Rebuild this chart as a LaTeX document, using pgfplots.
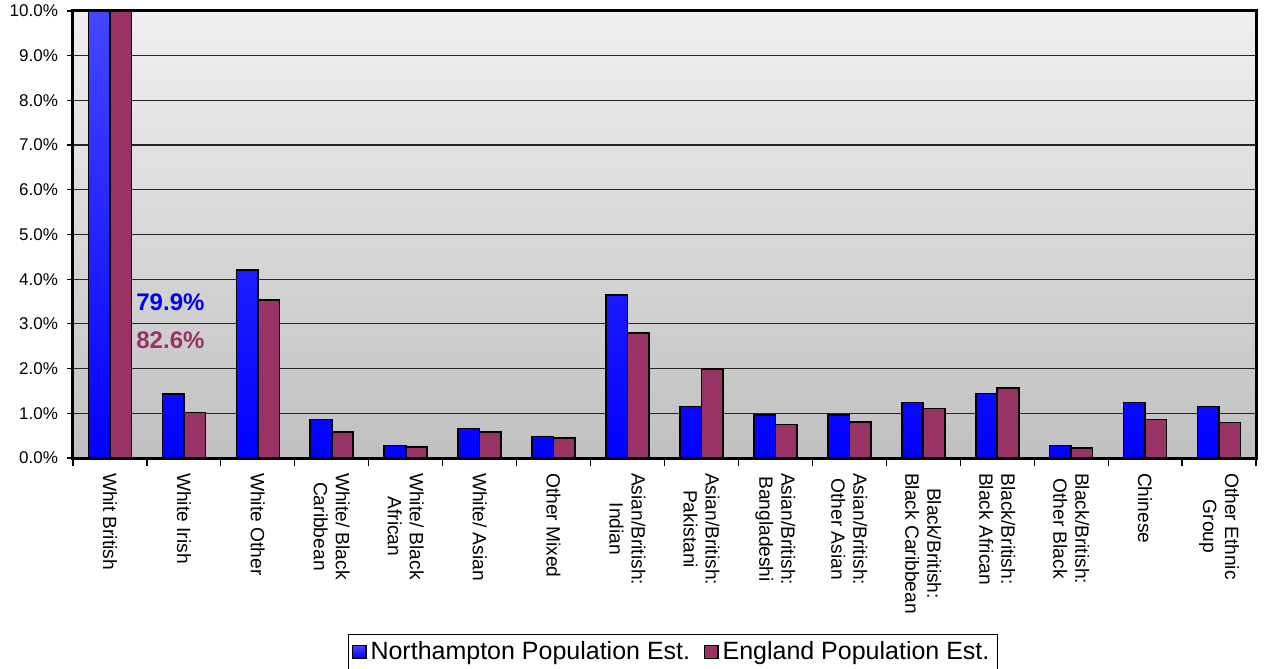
\documentclass[border=0pt]{standalone}
\usepackage{pgfplots}
\pgfplotsset{compat=1.18}
\usepackage{fontspec}
\setmainfont{Liberation Sans}
\usetikzlibrary{calc}
\definecolor{bgtop}{RGB}{240,240,240}
\definecolor{bgbot}{RGB}{192,192,192}
\definecolor{btop}{RGB}{70,70,255}
\definecolor{bbot}{RGB}{0,0,255}
\definecolor{maroon}{RGB}{153,51,102}
\begin{document}
\begin{tikzpicture}
\begin{axis}[
  scale only axis,
  width=591.5pt, height=223.5pt,
  ybar=0pt, bar width=10.75pt,
  xmin=-0.5, xmax=15.5,
  ymin=0, ymax=10,
  restrict y to domain*=0:10,
  axis background/.style={top color=bgtop, bottom color=bgbot},
  axis line style={line width=1.5pt, black},
  ymajorgrids, grid style={black!85, line width=0.6pt},
  ytick={0,1,...,10},
  yticklabel={\pgfmathprintnumber[fixed,fixed zerofill,precision=1]{\tick}\%},
  /pgf/number format/assume math mode=true,
  yticklabel style={font=\fontsize{8.5}{10}\selectfont, xshift=-1pt},
  tick align=outside,
  xtick pos=lower, ytick pos=lower,
  major tick length=3pt,
  minor tick length=4pt,
  tick style={black, line width=0.6pt},
  xtick={0,...,15},
  major x tick style={draw=none},
  minor xtick={-0.5,0.5,...,15.5},
  xticklabels={Whit British, White Irish, White Other, {White/ Black\\Caribbean}, {White/ Black\\African}, White/ Asian, Other Mixed, {Asian/British:\\Indian}, {Asian/British:\\Pakistani}, {Asian/British:\\Bangladeshi}, {Asian/British:\\Other Asian}, {Black/British:\\Black Caribbean}, {Black/British:\\Black African}, {Black/British:\\Other Black}, Chinese, {Other Ethnic\\Group}},
  xticklabel style={rotate=-90, anchor=west, align=center, font=\fontsize{9.6}{11}\selectfont, xshift=1pt},
  legend style={at={(0.507,-0.393)}, anchor=north, legend columns=2, draw=black, line width=0.5pt, fill=white, font=\fontsize{12.5}{14.5}\selectfont, inner xsep=2pt, inner ysep=1.5pt, /tikz/every even column/.append style={column sep=5pt}},
  legend image code/.code={\draw[#1, line width=0.6pt] (0pt,-3.3pt) rectangle (6.6pt,3.3pt);},
]
\addplot[draw=black, line width=0.8pt, top color=btop, bottom color=bbot] coordinates {
(0,79.9) (1,1.43) (2,4.21) (3,0.86) (4,0.28) (5,0.66) (6,0.48) (7,3.65) (8,1.15) (9,0.96) (10,0.96) (11,1.24) (12,1.44) (13,0.28) (14,1.24) (15,1.15)};
\addplot[draw=black, line width=0.8pt, fill=maroon] coordinates {
(0,82.6) (1,1.02) (2,3.53) (3,0.58) (4,0.24) (5,0.58) (6,0.45) (7,2.80) (8,1.99) (9,0.75) (10,0.80) (11,1.11) (12,1.57) (13,0.22) (14,0.86) (15,0.79)};
\legend{Northampton Population Est., England Population Est.}
\node[anchor=west, inner sep=0pt, text=blue, font=\bfseries\fontsize{12}{14}\selectfont] at (axis cs:0.352,3.49) {79.9\%};
\node[anchor=west, inner sep=0pt, text=maroon, font=\bfseries\fontsize{12}{14}\selectfont] at (axis cs:0.352,2.64) {82.6\%};
\coordinate (sw) at (rel axis cs:0,0);
\coordinate (ne) at (rel axis cs:1,1);
\end{axis}
\pgfresetboundingbox
\path[use as bounding box] ($(sw)+(-36.5pt,-105pt)$) rectangle ($(ne)+(5pt,5.5pt)$);
\end{tikzpicture}
\end{document}
